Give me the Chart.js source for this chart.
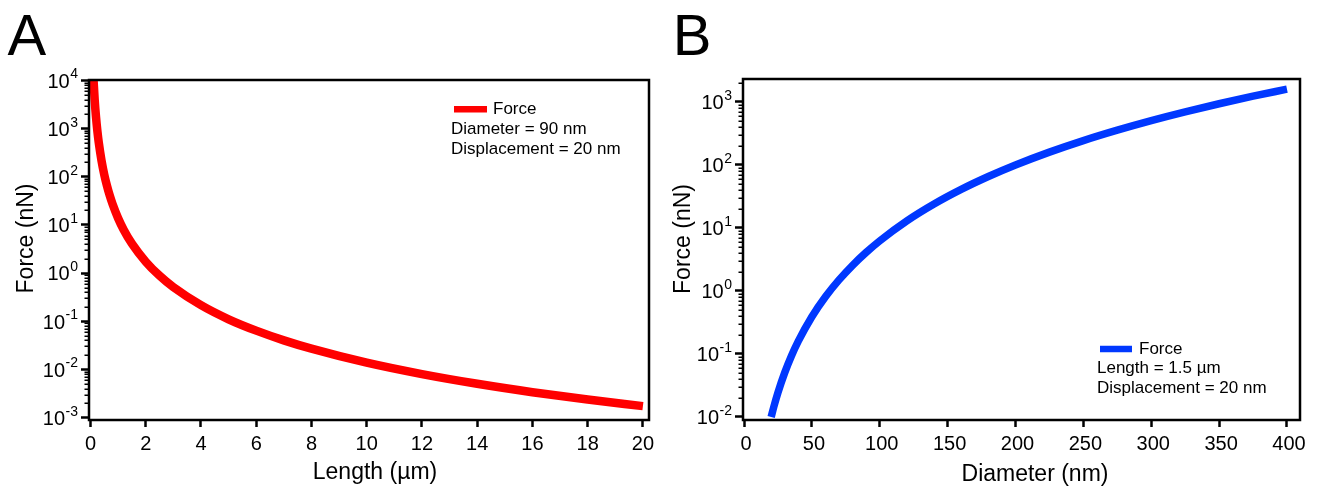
<!DOCTYPE html>
<html><head><meta charset="utf-8">
<script src="https://cdn.jsdelivr.net/npm/chart.js@4.4.1/dist/chart.umd.min.js"></script>
<style>
html,body{margin:0;padding:0;background:#fff;width:1322px;height:486px;overflow:hidden}
.panel{position:absolute;top:0;height:486px}
#pa{left:0;width:660px}
#pb{left:660px;width:662px}
canvas{display:block}
</style></head><body>
<div class="panel" id="pa"><canvas id="ca" width="660" height="486"></canvas></div>
<div class="panel" id="pb"><canvas id="cb" width="662" height="486"></canvas></div>
<script>
const FONT = "'Liberation Sans', Arial, Helvetica, sans-serif";

// ---- Panel A: Force vs Length ----
const lengthUm = [0.11,0.15,0.2,0.25,0.3,0.4,0.5,0.6,0.7,0.8,1.0,1.2,1.5,2,2.5,3,4,5,6,7,8,10,12,14,16,18,20];
const forceA = [10400,4090,1725,883,511,216,110,63.9,40.2,27.0,13.8,7.99,4.09,1.73,0.883,0.511,0.216,0.110,0.0639,0.0402,0.0270,0.0138,0.00799,0.00503,0.00337,0.00237,0.00173];
const xTicksA = [0,2,4,6,8,10,12,14,16,18,20];
const yMajorA = [1e-3,1e-2,1e-1,1,10,100,1000,10000];
const yTickBase = '10';
const yExpA = ['-3','-2','-1','0','1','2','3','4'];
const legendA = ['Force','Diameter = 90 nm','Displacement = 20 nm'];
const xTitleA = 'Length (\u00B5m)';
const yTitleA = 'Force (nN)';

// ---- Panel B: Force vs Diameter ----
const diameterNm = [20,22,25,30,35,40,50,60,70,80,90,100,120,140,160,180,200,225,250,275,300,325,350,375,400];
const forceB = [0.01,0.0146,0.0244,0.0506,0.0938,0.16,0.391,0.81,1.50,2.56,4.10,6.25,12.96,24.0,40.96,65.6,100,160,244,357,506,697,938,1236,1600];
const xTicksB = [0,50,100,150,200,250,300,350,400];
const yMajorB = [1e-2,1e-1,1,10,100,1000];
const yExpB = ['-2','-1','0','1','2','3'];
const legendB = ['Force','Length = 1.5 \u00B5m','Displacement = 20 nm'];
const xTitleB = 'Diameter (nm)';
const yTitleB = 'Force (nN)';

function logTickList(majors, max){
  const t = [];
  majors.forEach(m => {
    t.push({value:m, major:true});
    for (let k=2;k<=9;k++){ const v = +(m*k).toPrecision(6); if (v < max) t.push({value:v, major:false}); }
  });
  return t;
}

function panelPlugin(p){
  return {
    id:'panel'+p.letter,
    afterDraw(chart){
      const ctx = chart.ctx, a = chart.chartArea, ys = chart.scales.y;
      ctx.save();
      // minor y ticks
      ctx.strokeStyle = '#000'; ctx.lineWidth = 1.5;
      ys.ticks.forEach(t => {
        if (t.major) return;
        const py = Math.round(ys.getPixelForValue(t.value)) + 0.25;
        ctx.beginPath(); ctx.moveTo(a.left - 4.5, py); ctx.lineTo(a.left, py); ctx.stroke();
      });
      // frame
      ctx.lineWidth = 2.5;
      ctx.strokeRect(a.left, a.top, a.right - a.left, a.bottom - a.top);
      ctx.fillStyle = '#000';
      // y tick labels: base with raised exponent
      ctx.textBaseline = 'alphabetic';
      const xr = a.left - 11;
      p.yMajor.forEach((m, j) => {
        const py = ys.getPixelForValue(m);
        const exp = p.yExp[j];
        ctx.font = '14px ' + FONT;
        const ew = ctx.measureText(exp).width;
        ctx.textAlign = 'left';
        ctx.fillText(exp, xr - ew, py - 2);
        ctx.font = '20px ' + FONT;
        ctx.textAlign = 'right';
        ctx.fillText(yTickBase, xr - ew - 0.5, py + 7.3);
      });
      // axis titles
      ctx.font = '23px ' + FONT;
      ctx.textAlign = 'center';
      ctx.fillText(p.xTitle, p.xTitlePos[0], p.xTitlePos[1]);
      ctx.save();
      ctx.translate(p.yTitlePos[0], p.yTitlePos[1]);
      ctx.rotate(-Math.PI/2);
      ctx.fillText(p.yTitle, 0, 0);
      ctx.restore();
      // legend
      const L = p.legend;
      ctx.strokeStyle = p.color; ctx.lineWidth = 6.5; ctx.lineCap = 'butt';
      ctx.beginPath(); ctx.moveTo(L.x0, L.ly); ctx.lineTo(L.x1, L.ly); ctx.stroke();
      ctx.font = '17px ' + FONT; ctx.textAlign = 'left';
      ctx.fillText(p.legendText[0], L.tx, L.b[0]);
      ctx.fillText(p.legendText[1], L.sx, L.b[1]);
      ctx.fillText(p.legendText[2], L.sx, L.b[2]);
      // panel letter
      ctx.font = '58px ' + FONT;
      ctx.fillText(p.letter, p.letterPos[0], p.letterPos[1]);
      ctx.restore();
    }
  };
}

function makeChart(id, c){
  const yTicks = logTickList(c.yMajor, c.yMax);
  return new Chart(document.getElementById(id), {
    type:'line',
    data:{datasets:[{
      data: c.xs.map((x,i)=>({x:x, y:c.ys[i]})),
      borderColor:c.color, borderWidth:c.lw, pointRadius:0, pointHoverRadius:0,
      cubicInterpolationMode:'monotone', borderCapStyle:'butt', borderJoinStyle:'round',
      fill:false, clip:0
    }]},
    options:{
      responsive:false, animation:false, devicePixelRatio:1, events:[],
      layout:{padding:{top:c.area.top, right:c.area.right, left:0, bottom:0}},
      plugins:{legend:{display:false}, tooltip:{enabled:false}, title:{display:false}},
      scales:{
        x:{type:'linear', position:'bottom', min:c.xMin, max:c.xMax, bounds:'data',
          afterBuildTicks: s => { s.ticks = c.xTicks.map(v=>({value:v})); },
          afterFit: s => { s.height = 66; s.paddingLeft = 0; s.paddingRight = 0; },
          grid:{display:true, drawOnChartArea:false, drawTicks:true, tickLength:7, tickWidth:2.5, tickColor:'#000'},
          border:{display:false},
          ticks:{autoSkip:false, maxRotation:0, minRotation:0, padding:5.5, color:'#000', labelOffset:c.labelOffset,
                 font:{family:FONT, size:20}, callback:(v)=>String(v)},
          title:{display:false}
        },
        y:{type:'logarithmic', position:'left', min:c.yMin, max:c.yMax, bounds:'data',
          afterBuildTicks: s => { s.ticks = yTicks.map(t=>({value:t.value, major:t.major})); },
          afterFit: s => { s.width = c.area.left; s.paddingTop = 0; s.paddingBottom = 0; },
          grid:{display:true, drawOnChartArea:false, drawTicks:true, tickLength:8,
                tickWidth:2.5, tickColor:(ctx)=> (ctx.tick && ctx.tick.major) ? '#000' : 'rgba(0,0,0,0)'},
          border:{display:false},
          ticks:{autoSkip:false, padding:3, color:'#000', font:{family:FONT, size:20},
                 callback:()=>''},
          title:{display:false}
        }
      }
    },
    plugins:[panelPlugin(c.panel)]
  });
}

makeChart('ca', {
  xs:lengthUm, ys:forceA, color:'#ff0000', lw:8.5,
  xMin:-0.054, xMax:20.22, xTicks:xTicksA, labelOffset:0,
  yMin:Math.pow(10,-3.05), yMax:Math.pow(10,4.01), yMajor:yMajorA,
  area:{left:89, top:80, right:11},
  panel:{letter:'A', letterPos:[7.5,55], color:'#ff0000', yMajor:yMajorA, yExp:yExpA,
    xTitle:xTitleA, xTitlePos:[375,478.5], yTitle:yTitleA, yTitlePos:[33,238.5],
    legendText:legendA,
    legend:{x0:454, x1:487, ly:109.3, tx:493, sx:451, b:[114.3,134.3,154]}}
});

makeChart('cb', {
  xs:diameterNm, ys:forceB, color:'#0038ff', lw:7.5,
  xMin:-0.74, xMax:409.6, xTicks:xTicksB, labelOffset:2,
  yMin:Math.pow(10,-2.048), yMax:Math.pow(10,3.365), yMajor:yMajorB,
  area:{left:83, top:79, right:22},
  panel:{letter:'B', letterPos:[12.7,55], color:'#0038ff', yMajor:yMajorB, yExp:yExpB,
    xTitle:xTitleB, xTitlePos:[375,480.5], yTitle:yTitleB, yTitlePos:[30,239],
    legendText:legendB,
    legend:{x0:440, x1:472, ly:349, tx:479, sx:437, b:[354,373.3,392.7]}}
});
</script>
</body></html>
